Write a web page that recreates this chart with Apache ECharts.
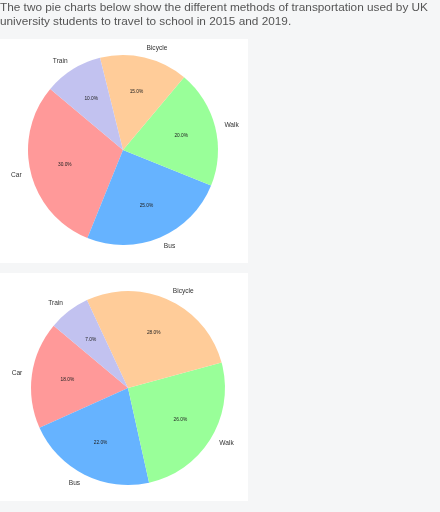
<!DOCTYPE html>
<html>
<head>
<meta charset="utf-8">
<script src="https://cdn.jsdelivr.net/npm/echarts@6/dist/echarts.min.js"></script>
<style>
  html, body { margin: 0; padding: 0; background: #f5f6f7; }
  #chart { width: 440px; height: 512px; }
</style>
</head>
<body>
<div id="chart"></div>
<script>
// data
const categories = ['Car', 'Bus', 'Walk', 'Bicycle', 'Train'];
const share2015 = [30, 25, 20, 15, 10];
const share2019 = [18, 22, 26, 28, 7];
const pastel = ['#ff9999', '#66b3ff', '#99ff99', '#ffcc99', '#c2c2f0'];
const heading = 'The two pie charts below show the different methods of transportation used by UK\nuniversity students to travel to school in 2015 and 2019.';

function toData(vals) {
  return categories.map((c, i) => ({ name: c, value: vals[i] }));
}

// matplotlib-like pie: names at 1.1r, percents at 0.6r
function pieSeries(vals, center, r) {
  return [
    {
      type: 'pie',
      center: center,
      radius: r,
      startAngle: 140,
      clockwise: false,
      avoidLabelOverlap: false,
      silent: true,
      label: {
        show: true,
        position: 'outside',
        alignTo: 'none',
        distanceToLabelLine: 0,
        formatter: '{b}',
        fontFamily: 'Liberation Sans',
        fontSize: 6.6,
        color: '#333'
      },
      labelLine: { show: false, length: r * 0.1, length2: 0 },
      data: toData(vals)
    },
    {
      type: 'pie',
      center: center,
      radius: r * 1.2,
      startAngle: 140,
      clockwise: false,
      avoidLabelOverlap: false,
      silent: true,
      itemStyle: { color: 'transparent' },
      label: {
        show: true,
        position: 'inside',
        formatter: p => p.value.toFixed(1) + '%',
        fontFamily: 'Liberation Sans',
        fontSize: 4.8,
        color: '#222'
      },
      labelLine: { show: false },
      data: toData(vals)
    }
  ];
}

const chart = echarts.init(document.getElementById('chart'));
chart.setOption({
  animation: false,
  backgroundColor: '#f5f6f7',
  color: pastel,
  title: {
    text: heading,
    left: 0,
    top: 1,
    padding: 0,
    textStyle: {
      fontFamily: 'Liberation Sans',
      fontSize: 11.8,
      fontWeight: 'normal',
      lineHeight: 14,
      color: '#555'
    }
  },
  graphic: [
    { type: 'rect', shape: { x: 0, y: 39, width: 248, height: 224 }, style: { fill: '#fff' }, z: -10 },
    { type: 'rect', shape: { x: 0, y: 273, width: 248, height: 228 }, style: { fill: '#fff' }, z: -10 }
  ],
  series: [
    ...pieSeries(share2015, [123, 150], 95),
    ...pieSeries(share2019, [128, 388], 97)
  ]
});
</script>
</body>
</html>
